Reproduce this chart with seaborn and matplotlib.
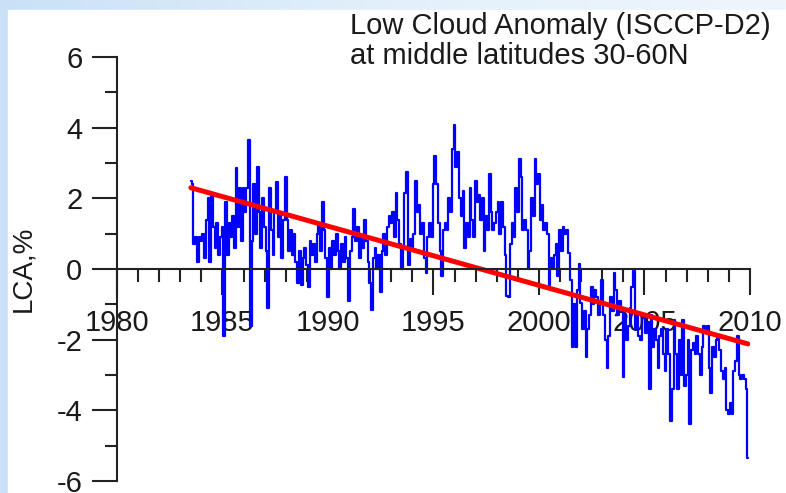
import numpy as np
import pandas as pd
import matplotlib
matplotlib.use("Agg")
import matplotlib.pyplot as plt
from matplotlib.ticker import MultipleLocator
from matplotlib.patches import Rectangle
import seaborn as sns

# ---------------- data (monthly low cloud anomaly, %) ----------------
start_year = 1983.5  # July 1983
lca_1983 = [2.5, 2.4, 0.7, 0.9, 0.2, 0.9]
lca_1984 = [0.8, 1.0, 0.3, 1.4, 2.0, 0.2, 2.1, 1.2, 0.6, 1.3, 0.4, 0.9]
lca_1985 = [1.2, -1.9, 1.9, 0.4, 1.3, 0.9, 1.5, 0.6, 2.85, 1.2, 2.3, 0.8]
lca_1986 = [2.3, 1.6, 2.3, 3.65, -1.6, 0.8, 2.4, 1.0, 2.9, 1.6, 0.6, 2.0]
lca_1987 = [1.2, 0.5, -1.1, 2.3, 1.1, 0.4, 1.6, 2.45, 0.9, 1.5, 0.3, 1.4]
lca_1988 = [2.6, 1.4, 0.5, 1.1, 0.4, 1.0, 0.2, -0.4, 0.5, -0.45, 0.3, 0.6]
lca_1989 = [0.1, -0.5, 0.8, 0.4, 0.7, 0.2, 1.0, 1.3, 0.5, 1.9, 1.1, 0.3]
lca_1990 = [-0.8, 0.6, 0.0, 0.8, 0.4, 1.0, 0.5, 0.0, 0.7, 0.2, 0.9, 0.3]
lca_1991 = [-0.9, 0.5, 0.9, 1.7, 0.8, 1.2, 0.3, 0.9, 0.6, 1.4, 0.8, 0.2]
lca_1992 = [-0.4, -1.15, 0.3, 0.6, 0.0, 0.4, -0.65, 0.5, 1.0, 0.4, 1.2, 1.5]
lca_1993 = [1.3, 1.6, 0.9, 2.15, 1.4, 0.7, 0.0, 0.6, 2.15, 2.75, 0.1, 0.85]
lca_1994 = [0.6, 1.0, 2.5, 1.6, 1.8, 1.0, 1.3, 0.3, -0.1, 0.9, 1.3, 0.9]
lca_1995 = [2.4, 3.2, 2.4, 1.3, 0.5, -0.2, 1.1, 1.3, 1.1, 2.0, 1.6, 3.4]
lca_1996 = [4.08, 2.9, 3.3, 2.0, 1.5, 2.2, 0.6, 1.3, 0.9, 2.3, 1.4, 0.9]
lca_1997 = [2.5, 1.9, 2.1, 1.4, 2.0, 0.5, 1.5, 1.1, 2.7, 1.6, 1.1, 1.3]
lca_1998 = [1.6, 1.9, 1.0, 1.9, 1.2, 0.4, -0.75, -0.8, 0.7, 1.3, 0.9, 2.3]
lca_1999 = [1.6, 3.1, 2.6, 1.1, 1.4, 1.1, 0.0, 0.5, 2.0, 1.5, 3.1, 2.4]
lca_2000 = [2.7, 1.4, 1.8, 1.1, 1.3, 1.0, -0.45, 0.3, 0.0, 0.4, 0.7, -0.2]
lca_2001 = [1.1, 0.5, 1.2, 1.0, 1.1, 0.45, -0.3, -2.2, -1.0, -2.2, -0.6, 0.15]
lca_2002 = [-0.95, -1.7, -1.2, -2.5, -1.7, -1.3, -0.5, -1.0, -0.6, -0.8, -1.3, -0.9]
lca_2003 = [-0.3, -1.3, -2.0, -2.8, -1.9, -0.8, -1.2, -0.1, -0.6, -1.3, -0.9, -1.1]
lca_2004 = [-3.05, -1.3, -2.0, -1.6, -1.1, -0.5, -0.05, -1.7, -1.3, -1.9, -2.0, -1.4]
lca_2005 = [-1.3, -1.8, -1.5, -3.4, -1.3, -2.2, -1.7, -2.0, -2.8, -1.9, -1.7, -2.4]
lca_2006 = [-2.9, -1.7, -2.4, -4.3, -3.4, -1.45, -2.4, -3.4, -2.0, -3.0, -1.45, -3.3]
lca_2007 = [-3.0, -2.0, -4.4, -2.3, -2.1, -2.4, -1.9, -2.4, -3.0, -2.2, -1.6, -1.8]
lca_2008 = [-1.6, -2.8, -3.5, -2.2, -2.5, -2.0, -1.9, -2.3, -2.9, -3.1, -2.8, -4.0]
lca_2009 = [-4.1, -3.8, -4.1, -2.9, -2.6, -1.9, -3.0, -3.1, -3.0, -3.1, -3.4, -5.35]

trend_years = [1983.5, 2009.9]
trend_values = [2.3, -2.12]

title_text = "Low Cloud Anomaly (ISCCP-D2)\nat middle latitudes 30-60N"
y_label = "LCA,%"
x_tick_values = [1980, 1985, 1990, 1995, 2000, 2005, 2010]
x_tick_labels = ["1980", "1985", "1990", "1995", "2000", "2005", "2010"]

# ---------------- assemble ----------------
lca = (lca_1983 + lca_1984 + lca_1985 + lca_1986 + lca_1987 + lca_1988 + lca_1989
       + lca_1990 + lca_1991 + lca_1992 + lca_1993 + lca_1994 + lca_1995 + lca_1996
       + lca_1997 + lca_1998 + lca_1999 + lca_2000 + lca_2001 + lca_2002 + lca_2003
       + lca_2004 + lca_2005 + lca_2006 + lca_2007 + lca_2008 + lca_2009)
years = start_year + np.arange(len(lca)) / 12.0
df = pd.DataFrame({"year": years, "lca": lca})
trend = pd.DataFrame({"year": trend_years, "lca": trend_values})

sns.set_style("ticks")
plt.rcParams["font.family"] = ["Liberation Sans", "DejaVu Sans"]
plt.rcParams["axes.unicode_minus"] = False

W, H = 786, 493
fig = plt.figure(figsize=(W / 100, H / 100), dpi=100)

# background frame gradient (light blue) + white panel
bg = fig.add_axes([0, 0, 1, 1], zorder=-10)
gx = np.linspace(0, 1, 200)
grad = np.tile(gx, (50, 1))
bg.imshow(grad, aspect="auto", extent=[0, 1, 0, 1],
          cmap=matplotlib.colors.LinearSegmentedColormap.from_list(
              "bgc", ["#c9e1f7", "#e3f0fb", "#eef6fd"]))
bg.add_patch(Rectangle((8 / W, 0), 1 - 8 / W, 1 - 10 / H, color="white", zorder=2))
bg.set_xlim(0, 1)
bg.set_ylim(0, 1)
bg.axis("off")

ax = fig.add_axes([117 / W, 12 / H, 633 / W, 424 / H])
ax.set_facecolor("none")

sns.lineplot(data=df, x="year", y="lca", ax=ax, color="#0000ff", lw=1.6,
             drawstyle="steps-mid", estimator=None)
sns.lineplot(data=trend, x="year", y="lca", ax=ax, color="#ff0000", lw=3.6,
             estimator=None)

ax.set_xlim(1980, 2010)
ax.set_ylim(-6, 6)
ax.spines["top"].set_visible(False)
ax.spines["right"].set_visible(False)
ax.spines["bottom"].set_position(("data", 0))
for s in ("left", "bottom"):
    ax.spines[s].set_linewidth(1.5)
    ax.spines[s].set_color("#222222")

ax.xaxis.set_major_locator(MultipleLocator(5))
ax.xaxis.set_minor_locator(MultipleLocator(1))
ax.yaxis.set_major_locator(MultipleLocator(2))
ax.yaxis.set_minor_locator(MultipleLocator(1))

ax.tick_params(axis="x", which="major", direction="out", length=19, width=1.5,
               color="#222222", labelsize=21, pad=10)
ax.tick_params(axis="x", which="minor", direction="out", length=9.5, width=1.5,
               color="#222222")
ax.tick_params(axis="y", which="major", direction="out", length=18, width=1.5,
               color="#222222", labelsize=21, pad=7)
ax.tick_params(axis="y", which="minor", direction="out", length=9, width=1.5,
               color="#222222")
ax.set_xticks(x_tick_values)
ax.set_xticklabels(x_tick_labels, color="#1a1a1a")
for t in ax.get_yticklabels():
    t.set_color("#1a1a1a")

ax.set_xlabel("")
ax.set_ylabel(y_label, fontsize=20, color="#1a1a1a")
ax.yaxis.set_label_coords(-0.128, 0.5)

fig.text(350 / W, 1 - 12 / H, title_text, fontsize=21, color="#1a1a1a",
         ha="left", va="top", linespacing=1.1)

fig.savefig("out.png", dpi=100)
